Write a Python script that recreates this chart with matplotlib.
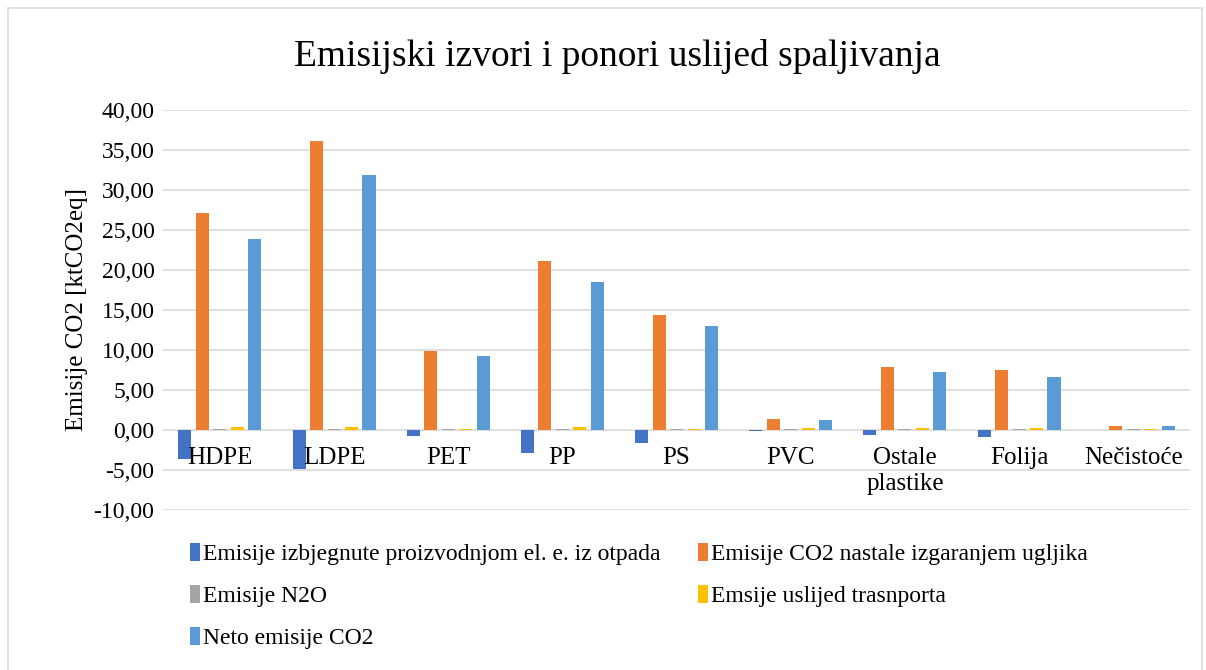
import numpy as np
import matplotlib
matplotlib.use("Agg")
import matplotlib.pyplot as plt
from matplotlib.ticker import FuncFormatter
from matplotlib.patches import Rectangle

plt.rcParams['font.family'] = ['Liberation Serif', 'DejaVu Serif']

categories = ["HDPE", "LDPE", "PET", "PP", "PS", "PVC", "Ostale\nplastike", "Folija", "Nečistoće"]

# Emisije [ktCO2eq]
avoided_el = [-3.6, -4.9, -0.8, -2.9, -1.7, -0.2, -0.7, -0.9, -0.05]
co2_carbon = [27.1, 36.1, 9.9, 21.1, 14.4, 1.4, 7.9, 7.5, 0.5]
n2o = [0.1, 0.1, 0.15, 0.15, 0.15, 0.15, 0.1, 0.1, 0.1]
transport = [0.3, 0.4, 0.1, 0.3, 0.1, 0.2, 0.2, 0.2, 0.15]
net_co2 = [23.8, 31.8, 9.2, 18.5, 13.0, 1.2, 7.2, 6.6, 0.5]

series_names = [
    "Emisije izbjegnute proizvodnjom el. e. iz otpada",
    "Emisije CO2 nastale izgaranjem ugljika",
    "Emisije N2O",
    "Emsije uslijed trasnporta",
    "Neto emisije CO2",
]
series = [avoided_el, co2_carbon, n2o, transport, net_co2]
colors = ["#4472C4", "#ED7D31", "#A5A5A5", "#FFC000", "#5B9BD5"]

fig = plt.figure(figsize=(12.06, 6.70), dpi=100)
ax = fig.add_axes([0.135, 0.239, 0.852, 0.597])

x = np.arange(len(categories))
step = 0.153
width = 0.114
bars = []
for i, (vals, name, c) in enumerate(zip(series, series_names, colors)):
    b = ax.bar(x + (i - 2) * step, vals, width, color=c, label=name, zorder=3)
    bars.append(b)

ax.set_xlim(-0.5, len(categories) - 0.5)
ax.set_ylim(-10, 40)
ax.set_yticks(np.arange(-10, 41, 5))
ax.yaxis.set_major_formatter(FuncFormatter(lambda v, p: f"{v:.2f}".replace(".", ",")))
ax.tick_params(axis='y', length=0, labelsize=17, pad=6)
ax.set_xticks([])
ax.grid(axis='y', color='#D9D9D9', linewidth=1.2, zorder=0)
for s in ax.spines.values():
    s.set_visible(False)

# category labels sit just under the zero line, inside the plot
for i, cat in enumerate(categories):
    ax.text(i, -2.2, cat, ha='center', va='top', fontsize=18, linespacing=1.2, zorder=4)

ax.set_ylabel("Emisije CO2 [ktCO2eq]", fontsize=18, labelpad=4)

fig.text(0.512, 0.915, "Emisijski izvori i ponori uslijed spaljivanja",
         ha='center', va='center', fontsize=27)

# row-major order for two-column legend
order = [0, 2, 4, 1, 3]
fig.legend([bars[k] for k in order], [series_names[k] for k in order],
           ncol=2, loc='upper left', bbox_to_anchor=(0.14, 0.222),
           frameon=False, fontsize=17, handlelength=0.4, handleheight=0.8,
           handletextpad=0.15, columnspacing=1.6, labelspacing=0.85)

fig.patches.append(Rectangle((0.007, -0.01), 0.99, 0.998, transform=fig.transFigure,
                             fill=False, edgecolor='#D9D9D9', linewidth=1.2))

fig.savefig("out.png", dpi=100)
